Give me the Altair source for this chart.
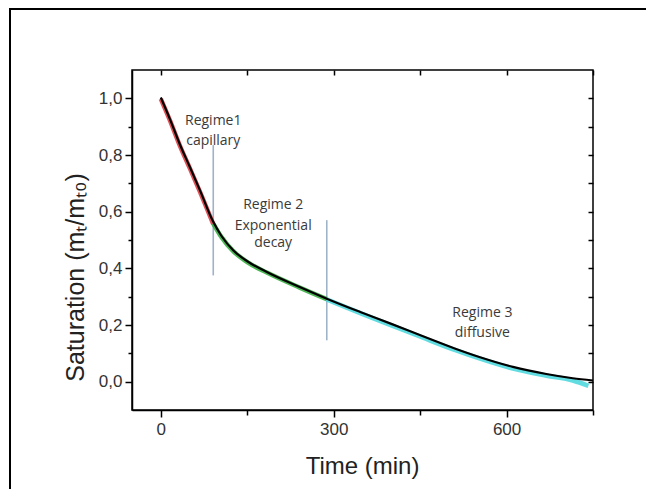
import altair as alt
import pandas as pd

# ---- data ----
t_black = [0, 16, 33, 51, 68, 91, 105, 126, 150, 184, 241, 288, 346, 400, 455, 510, 554, 611, 669, 715, 750]
y_black = [1.003, 0.926, 0.838, 0.755, 0.675, 0.564, 0.515, 0.463, 0.425, 0.387, 0.334, 0.293, 0.246, 0.204, 0.160, 0.117, 0.086, 0.052, 0.027, 0.012, 0.004]

t_red = [0, 16, 33, 51, 68, 91]
y_red = [0.998, 0.921, 0.833, 0.750, 0.670, 0.556]

t_green = [91, 105, 126, 150, 184, 241, 288]
y_green = [0.558, 0.511, 0.460, 0.422, 0.385, 0.332, 0.291]

t_cyan = [288, 346, 400, 455, 510, 554, 611, 669, 715, 742]
y_cyan = [0.290, 0.242, 0.199, 0.155, 0.112, 0.081, 0.046, 0.021, 0.004, -0.015]

bound_t = [91, 288]
bound_top = [0.835, 0.570]
bound_bottom = [0.375, 0.146]

ann_t = [91, 91, 195, 195, 195, 558, 558]
ann_y = [0.921, 0.851, 0.622, 0.551, 0.488, 0.241, 0.171]
ann_text = ["Regime1", "capillary", "Regime 2", "Exponential", "decay", "Regime 3", "diffusive"]

x_ticks = [0, 150, 300, 450, 600, 750]
y_ticks = [0.0, 0.1, 0.2, 0.3, 0.4, 0.5, 0.6, 0.7, 0.8, 0.9, 1.0]

black = pd.DataFrame({"t": t_black, "y": y_black})
red = pd.DataFrame({"t": t_red, "y": y_red})
green = pd.DataFrame({"t": t_green, "y": y_green})
cyan = pd.DataFrame({"t": t_cyan, "y": y_cyan})
bounds = pd.DataFrame({"t": bound_t, "y1": bound_top, "y2": bound_bottom})
ann = pd.DataFrame({"t": ann_t, "y": ann_y, "text": ann_text})

xs = alt.Scale(domain=[-50, 750], nice=False, zero=False)
ys = alt.Scale(domain=[-0.1, 1.1], nice=False, zero=False)

label_font = "Liberation Sans"

x_axis = alt.Axis(
    values=x_ticks,
    labelExpr="datum.value % 300 == 0 ? datum.label : ''",
    format="d",
    title="Time (min)",
    titleFont=label_font, titleFontSize=24, titleFontWeight="normal", titleColor="#222",
    titleX=230, titleY=56, titleBaseline="middle",
    labelFont=label_font, labelFontSize=17, labelColor="#333", labelPadding=4,
    tickColor="black", tickWidth=1.5,
    tickSize={"condition": {"test": "datum.value % 300 == 0", "value": 7}, "value": 5},
    domainColor="black", domainWidth=1.5, grid=False, labelFlush=False,
)
y_axis = alt.Axis(
    values=y_ticks,
    labelExpr="round(datum.value*10) % 2 == 0 ? replace(format(datum.value, '.1f'), '.', ',') : ''",
    title="Saturation (mₜ/mₜ₀)",
    titleFont=label_font, titleFontSize=25, titleFontWeight="normal", titleColor="#222",
    titleX=-57, titleY=207, titleBaseline="middle", titleAngle=270,
    labelFont=label_font, labelFontSize=17, labelColor="#333", labelPadding=3,
    tickColor="black", tickWidth=1.5,
    tickSize={"condition": {"test": "round(datum.value*10) % 2 == 0", "value": 7}, "value": 4},
    domainColor="black", domainWidth=1.5, grid=False, labelFlush=False,
)

main = alt.Chart(black).mark_line(color="black", strokeWidth=2.2, interpolate="monotone").encode(
    x=alt.X("t:Q", scale=xs, axis=x_axis),
    y=alt.Y("y:Q", scale=ys, axis=y_axis),
)

mirror = alt.Chart(black).mark_point(opacity=0).encode(
    x=alt.X("t:Q", scale=xs, axis=alt.Axis(orient="top", values=x_ticks, labels=False, domain=False,
                                           title=None, tickSize=5, offset=-5, tickColor="black",
                                           tickWidth=1.5, grid=False)),
    y=alt.Y("y:Q", scale=ys, axis=alt.Axis(orient="right", values=y_ticks, labels=False, domain=False,
                                           title=None, tickSize=5, offset=-5, tickColor="black",
                                           tickWidth=1.5, grid=False)),
)

def seg(df, color):
    return alt.Chart(df).mark_line(color=color, strokeWidth=4.5, opacity=0.85, interpolate="monotone").encode(
        x=alt.X("t:Q", scale=xs, axis=None),
        y=alt.Y("y:Q", scale=ys, axis=None),
    )

red_l = seg(red, "#d8333a")
green_l = seg(green, "#2fa83a")
cyan_l = seg(cyan, "#45d6dc")

rules = alt.Chart(bounds).mark_rule(color="#9fb3c8", strokeWidth=1.6).encode(
    x=alt.X("t:Q", scale=xs, axis=None),
    y=alt.Y("y1:Q", scale=ys, axis=None),
    y2="y2:Q",
)

texts = alt.Chart(ann).mark_text(font="Open Sans", fontSize=14, color="#3a3a3a", align="center",
                                 baseline="middle").encode(
    x=alt.X("t:Q", scale=xs, axis=None),
    y=alt.Y("y:Q", scale=ys, axis=None),
    text="text:N",
)

one = pd.DataFrame({"a": [0]})
frame_top = alt.Chart(one).mark_rule(color="black", strokeWidth=2).encode(
    x=alt.value(-122), x2=alt.value(600), y=alt.value(-61),
)
frame_left = alt.Chart(one).mark_rule(color="black", strokeWidth=2).encode(
    x=alt.value(-122), y=alt.value(-62), y2=alt.value(500),
)

chart = alt.layer(frame_top, frame_left, rules, red_l, green_l, cyan_l, main, mirror, texts).resolve_axis(
    x="independent", y="independent"
).properties(
    width=461, height=340,
    padding={"left": 124, "top": 62, "right": 53, "bottom": 79},
    autosize=alt.AutoSizeParams(type="none"),
).configure_view(stroke="black", strokeWidth=1.5)

chart.save("out.html", embed_options={"renderer": "svg", "actions": False})
